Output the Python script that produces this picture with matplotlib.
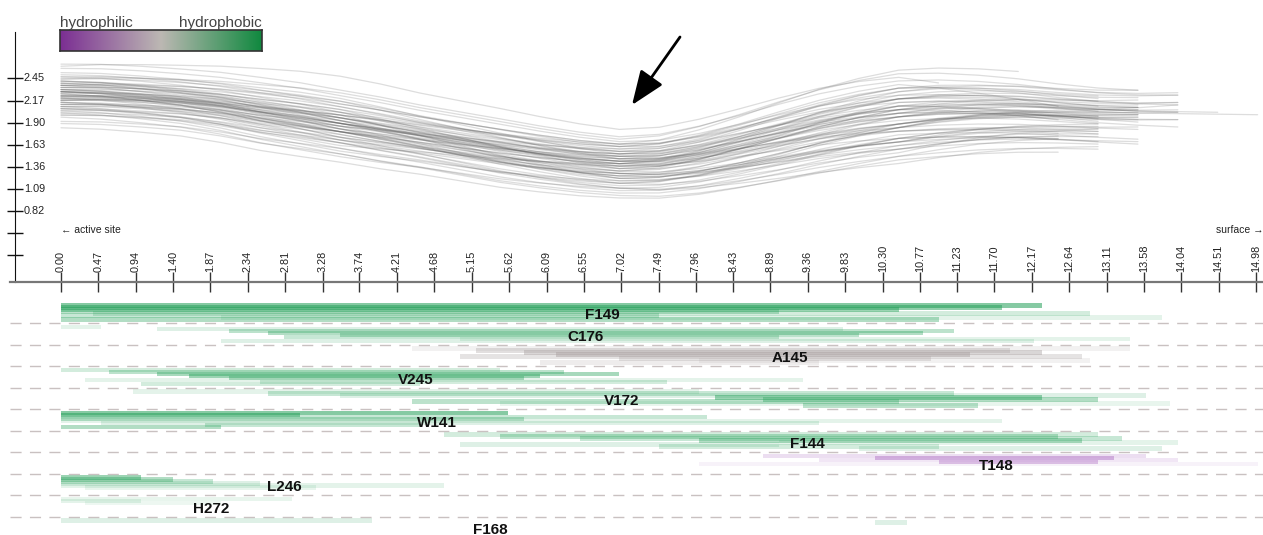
import numpy as np
import matplotlib.pyplot as plt
from matplotlib.colors import LinearSegmentedColormap

plt.rcParams['font.family'] = ['Liberation Sans', 'DejaVu Sans']

# ---- profile of tunnel radius ----
prof_x = np.array([0, 0.5, 1, 1.5, 2, 2.5, 3, 3.5, 4, 4.5, 5, 5.5, 6, 6.5, 7, 7.5,
                   8, 8.5, 9, 9.5, 10, 10.5, 11, 11.5, 12, 12.5, 13, 13.5, 14, 14.5, 15])
prof_mid = np.array([2.23, 2.22, 2.19, 2.15, 2.09, 2.01, 1.94, 1.86, 1.78, 1.70, 1.62,
                     1.54, 1.47, 1.41, 1.37, 1.38, 1.45, 1.55, 1.66, 1.77, 1.86, 1.93,
                     1.97, 1.99, 1.99, 1.97, 1.95, 1.94, 1.94, 1.94, 1.94])
prof_hw = np.array([0.26, 0.27, 0.28, 0.29, 0.31, 0.33, 0.34, 0.34, 0.34, 0.33, 0.33,
                    0.33, 0.32, 0.31, 0.30, 0.32, 0.35, 0.38, 0.41, 0.43, 0.44, 0.44,
                    0.42, 0.39, 0.36, 0.33, 0.31, 0.30, 0.30, 0.30, 0.30])

# each tunnel: offsets (in half-widths) at x = 0, 3.5, 7, 10.5 and at its end, then the end
curves = [
    (0.0, 0.3, 0.1, -0.1, 0.2, 13.5), (0.3, -0.1, 0.2, 0.4, -0.1, 13.0),
    (-0.2, 0.2, -0.1, 0.3, 0.4, 14.0), (0.5, 0.7, 0.4, 0.2, 0.6, 13.5),
    (-0.5, -0.2, -0.3, -0.6, -0.2, 13.0), (0.2, -0.3, -0.4, 0.1, 0.0, 13.5),
    (-0.1, 0.1, 0.5, 0.6, 0.3, 14.0), (0.7, 0.4, 0.6, 0.9, 0.8, 13.0),
    (-0.7, -0.9, -0.6, -0.4, -0.8, 13.5), (0.4, 0.6, -0.1, -0.3, -0.5, 13.0),
    (-0.4, -0.1, 0.3, 0.1, 0.5, 13.5), (0.1, -0.4, 0.0, 0.2, -0.3, 14.0),
    (0.9, 0.5, 0.8, 1.0, 0.4, 12.5), (-0.9, -0.5, -0.7, -0.9, -0.4, 13.0),
    (0.6, 0.2, 0.0, -0.2, 0.2, 13.5), (-0.6, -0.7, 0.1, 0.4, -0.1, 13.5),
    (0.2, 0.0, 0.7, 0.8, 1.0, 14.0), (-0.3, -0.6, -0.8, -0.5, -1.0, 13.5),
    (1.1, 0.8, 0.9, 0.6, 0.7, 13.0), (-1.0, -1.1, -0.9, -1.2, -1.1, 13.0),
    (0.0, 0.4, -0.5, -0.2, 0.6, 14.0), (0.3, 0.1, 0.4, -0.3, -0.6, 12.5),
    (-0.2, 0.0, 0.2, -0.1, 0.1, 13.0), (0.5, -0.1, -0.2, 0.5, 0.3, 14.5),
    (-0.5, 0.0, 0.5, 0.3, 0.8, 13.5), (0.8, 0.9, 0.3, 0.0, -0.2, 13.0),
    (-0.8, -0.4, -0.2, 0.1, 0.2, 13.5), (0.1, 0.5, 0.3, 0.7, 0.9, 13.0),
    (-0.1, -0.5, -0.3, -0.8, -0.7, 12.5), (0.4, 0.2, 0.5, 0.1, 0.0, 14.0),
    (-0.4, -0.2, -0.5, -0.2, 0.1, 13.5), (1.3, 1.1, 1.0, 0.7, 0.5, 13.0),
    (-1.2, -0.8, -1.0, -0.7, -0.6, 13.0), (0.2, -0.2, 0.1, 0.8, 1.2, 13.5),
    (-0.6, -0.3, -0.4, -0.7, -0.9, 13.5), (0.6, 0.8, 0.9, 0.5, 0.3, 13.0),
    (0.0, 0.1, 0.3, -0.2, -0.4, 13.5), (-0.3, -0.5, 0.0, 0.4, 0.7, 14.0),
    (0.3, 0.0, -0.6, -0.5, -0.3, 13.0), (0.7, 0.3, 0.2, 0.6, 0.5, 13.5),
    (-0.7, -0.2, 0.4, 0.2, 0.0, 13.0), (0.2, 0.1, -0.2, -0.6, -0.8, 12.5),
    (-0.2, 0.3, 0.6, 0.2, 0.4, 13.5), (0.9, 1.0, 0.5, 0.9, 1.1, 14.0),
    (-0.9, -0.6, -0.3, -0.6, -0.5, 13.0), (0.5, 0.3, 0.1, -0.5, -0.9, 13.0),
    (-0.5, -0.8, -0.7, -0.1, 0.3, 13.5), (1.4, 1.8, 1.5, 1.2, 1.0, 11.0),
    (0.1, -0.4, -0.9, -1.0, -1.2, 13.0), (-0.1, 0.4, 0.8, 0.9, 0.6, 14.0),
    (0.4, 0.6, 0.7, 0.4, 0.2, 15.0), (-1.3, -1.0, -1.2, -1.1, -1.3, 12.5),
    (0.6, 0.1, -0.3, -0.1, 0.1, 13.5), (-0.4, 0.1, 0.2, -0.3, -0.6, 13.0),
    (0.0, -0.2, -0.1, 0.3, 0.5, 13.5), (0.8, 1.2, 1.1, 1.3, 1.2, 13.5),
    (-0.8, -1.0, -1.1, -0.8, -1.0, 13.0), (0.3, 0.5, 0.0, -0.1, 0.0, 14.0),
    (-0.6, -0.6, -0.9, -0.5, -0.3, 13.5), (1.0, 0.7, 0.6, 0.3, 0.1, 13.0),
    (0.2, 0.3, 0.4, 0.6, 0.7, 14.0), (-0.3, -0.2, -0.4, -0.6, -0.4, 13.0),
    (0.5, 0.9, 0.8, 0.3, -0.1, 12.5), (-0.1, -0.2, 0.1, 0.6, 0.9, 13.5),
    (1.5, 1.3, 1.2, 1.1, 1.0, 14.0), (-1.5, -1.3, -1.3, -1.0, -0.8, 12.5),
    (0.2, -0.1, -0.7, -0.2, 0.4, 13.5), (0.7, 0.2, -0.5, -0.8, -0.7, 13.0),
    (-0.2, 0.4, 0.9, 1.4, 1.5, 12.0), (0.0, 0.1, 0.2, 0.1, 0.3, 14.0),
]
knot_x = [0, 3.5, 7, 10.5]

xtick_labels = ['0.00', '0.47', '0.94', '1.40', '1.87', '2.34', '2.81', '3.28', '3.74',
                '4.21', '4.68', '5.15', '5.62', '6.09', '6.55', '7.02', '7.49', '7.96',
                '8.43', '8.89', '9.36', '9.83', '10.30', '10.77', '11.23', '11.70',
                '12.17', '12.64', '13.11', '13.58', '14.04', '14.51', '14.98']
ytick_vals = [2.45, 2.17, 1.90, 1.63, 1.36, 1.09, 0.82, 0.55, 0.28]
ytick_labels = ['2.45', '2.17', '1.90', '1.63', '1.36', '1.09', '0.82', '', '']

# ---- residues lining the tunnel ----
residues = ['F149', 'C176', 'A145', 'V245', 'V172', 'W141', 'F144', 'T148', 'L246', 'H272', 'F168']
res_kind = ['g', 'g', 'a', 'g', 'g', 'g', 'g', 'p', 'g', 'g', 'g']
label_pos = [6.79, 6.58, 9.14, 4.45, 7.03, 4.71, 9.36, 11.72, 2.80, 1.88, 5.38]
# (start, end, opacity) for each contact line, top lane first
res_segments = [
    [(0, 12.3, 0.55), (0, 11.8, 0.5), (0, 10.5, 0.45), (0, 9.0, 0.3),
     (0.4, 12.9, 0.2), (0, 7.5, 0.25), (2.0, 13.8, 0.12), (0, 11.0, 0.35)],
    [(0, 0.5, 0.12), (1.2, 9.8, 0.15), (2.1, 11.2, 0.3), (2.6, 10.8, 0.35),
     (3.5, 10.0, 0.3), (2.8, 9.0, 0.25), (5.0, 13.4, 0.12), (2.0, 12.2, 0.15)],
    [(4.4, 13.4, 0.15), (5.2, 11.9, 0.35), (5.8, 12.3, 0.45), (6.2, 11.4, 0.5),
     (5.0, 12.8, 0.3), (7.0, 10.9, 0.3), (8.0, 12.9, 0.15), (6.0, 9.5, 0.2)],
    [(0, 5.5, 0.2), (0.6, 6.3, 0.3), (1.2, 7.0, 0.4), (1.6, 6.0, 0.45),
     (2.1, 5.8, 0.35), (0.3, 9.3, 0.12), (2.5, 7.6, 0.2), (1.0, 4.5, 0.2)],
    [(0.9, 8.0, 0.12), (2.6, 11.2, 0.25), (3.5, 13.6, 0.15), (8.2, 12.3, 0.45),
     (8.8, 13.0, 0.35), (4.4, 10.5, 0.3), (5.5, 13.9, 0.1), (9.3, 11.5, 0.3)],
    [(0, 5.6, 0.55), (0, 3.0, 0.5), (0, 8.1, 0.25), (0, 5.8, 0.3),
     (0, 11.8, 0.12), (0.5, 9.5, 0.15), (1.8, 4.5, 0.25), (0, 2.0, 0.35)],
    [(4.8, 13.0, 0.2), (5.5, 12.5, 0.3), (6.5, 13.3, 0.25), (8.0, 12.8, 0.35),
     (9.0, 14.0, 0.12), (5.0, 9.0, 0.15), (7.5, 11.0, 0.2), (10.0, 13.8, 0.15)],
    [(8.8, 13.6, 0.2), (10.2, 13.2, 0.4), (9.5, 14.0, 0.15), (11.0, 13.0, 0.35),
     (8.0, 15.0, 0.08)],
    [(0, 1.0, 0.45), (0, 1.4, 0.35), (0, 1.9, 0.25), (0, 2.5, 0.15),
     (0, 4.8, 0.12), (0.3, 3.2, 0.1)],
    [(0, 2.9, 0.1), (0, 1.0, 0.12), (0.3, 2.0, 0.08)],
    [(0, 3.9, 0.15), (10.2, 10.6, 0.15)],
]
kind_color = {'g': '#23a058', 'a': '#aca4a4', 'p': '#a45cbc'}

# ---- layout (pixels of the 1263x535 picture) ----
W, H = 1263, 535
pxu = 14.98 / 1195.0
x0, x1 = -61 * pxu, 14.98 + 7 * pxu
vpp = 1 / 81.6

fig = plt.figure(figsize=(12.63, 5.35), dpi=100)

ax = fig.add_axes([0, (H - 282) / H, 1, 250 / H])
ax.set_xlim(x0, x1)
ax.set_ylim(2.45 - (282 - 78) * vpp, 2.45 + (78 - 32) * vpp)

for c in curves:
    e = c[-1]
    xs = prof_x[prof_x <= e]
    u = np.interp(xs, knot_x + [e], list(c[:-1]))
    ys = prof_mid[:len(xs)] + prof_hw[:len(xs)] * u
    ax.plot(xs, ys, color='#555555', alpha=0.2, lw=0.9, solid_capstyle='round')

for s in ['top', 'right']:
    ax.spines[s].set_visible(False)
ax.spines['left'].set_position(('data', x0 + 15 * pxu))
ax.spines['left'].set_color('#111111')
ax.spines['bottom'].set_bounds(x0 + 10 * pxu, x1)
ax.spines['bottom'].set_color('#777777')
ax.spines['bottom'].set_linewidth(1.6)

xtick_vals = [float(t) for t in xtick_labels]
ax.set_xticks(xtick_vals)
ax.tick_params(axis='x', direction='inout', length=14, width=1, color='#333333', labelbottom=False)
ax.set_yticks(ytick_vals)
ax.tick_params(axis='y', direction='inout', length=11, width=1, color='#111111', labelleft=False)

lab_y = 2.45 - (272 - 78) * vpp
for v, t in zip(xtick_vals, xtick_labels):
    ax.text(v, lab_y, t, rotation=90, ha='center', va='bottom', fontsize=7.8, color='#222222')
for v, t in zip(ytick_vals, ytick_labels):
    if t:
        ax.text(x0 + 24 * pxu, v, t, ha='left', va='center', fontsize=7.8, color='#222222')

ax.text(0, 2.45 - (230 - 78) * vpp, '\u2190 active site', ha='left', va='center', fontsize=7.5, color='#222222')
ax.text(x1, 2.45 - (230 - 78) * vpp, 'surface \u2192', ha='right', va='center', fontsize=7.5, color='#222222')

ax.annotate('', xy=(632, H - 105), xytext=(680, H - 37), xycoords='figure pixels',
            textcoords='figure pixels',
            arrowprops=dict(arrowstyle='-|>,head_length=1.4,head_width=0.55', mutation_scale=15,
                            lw=2, color='black', shrinkA=0, shrinkB=0))

# ---- hydropathy legend ----
cmap = LinearSegmentedColormap.from_list('hyd', ['#7b2e93', '#bcb8b3', '#10893f'])
lax = fig.add_axes([60 / W, (H - 51) / H, 202 / W, 21 / H])
lax.imshow(np.linspace(0, 1, 256)[None, :], cmap=cmap, aspect='auto')
lax.set_xticks([])
lax.set_yticks([])
for s in lax.spines.values():
    s.set_color('#333333')
    s.set_linewidth(1.2)
fig.text(60 / W, (H - 30) / H, 'hydrophilic', ha='left', va='bottom', fontsize=11, color='#444444')
fig.text(262 / W, (H - 30) / H, 'hydrophobic', ha='right', va='bottom', fontsize=11, color='#444444')

# ---- residue rows ----
bx = fig.add_axes([0, 0, 1, 240 / H])
bx.set_xlim(x0, x1)
bx.set_ylim((H - 303.5) / 21.5, (295 - 303.5) / 21.5)
bx.axis('off')

lane_h = 2 / 21.5
for k in range(len(residues) - 1):
    bx.hlines(k + 0.907, x0 + 10 * pxu, x1, color='#c9c1c1', lw=1, linestyles=(0, (8, 6)))

for k, (name, kind, pos, segs) in enumerate(zip(residues, res_kind, label_pos, res_segments)):
    for j, (s, e, op) in enumerate(segs):
        bx.barh(k + (j + 1) * lane_h, e - s, left=s, height=lane_h * 2.2,
                color=kind_color[kind], alpha=min(op, 0.6), linewidth=0)
    bx.text(pos, k + 0.535, name, ha='center', va='center', fontsize=11, fontweight='bold', color='#111111')

fig.savefig('out.png', dpi=100)
